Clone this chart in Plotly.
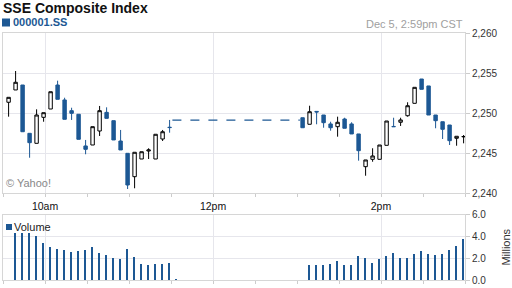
import pandas as pd
import plotly.graph_objects as go

# ---------------- data ----------------
am_times = pd.date_range("2012-12-05 09:34", periods=24, freq="5min")
pm_times = pd.date_range("2012-12-05 13:04", periods=24, freq="5min")

am_open  = [2251.34, 2252.88, 2253.50, 2247.46, 2246.21, 2249.46, 2250.50, 2253.50,
            2251.63, 2250.29, 2249.84, 2245.88, 2246.00, 2247.75, 2250.08, 2249.04,
            2246.50, 2244.96, 2242.04, 2244.25, 2245.25, 2244.25, 2246.75, 2248.22]
am_high  = [2251.96, 2255.25, 2253.50, 2247.46, 2250.46, 2250.04, 2252.66, 2254.04,
            2251.91, 2250.66, 2249.84, 2246.63, 2248.29, 2250.88, 2250.71, 2249.04,
            2247.88, 2244.96, 2245.09, 2245.16, 2245.59, 2247.34, 2247.88, 2249.13]
am_low   = [2249.54, 2252.88, 2247.66, 2244.41, 2246.21, 2248.91, 2250.50, 2251.71,
            2249.21, 2249.13, 2246.71, 2244.84, 2246.00, 2247.13, 2249.33, 2246.63,
            2245.38, 2240.50, 2240.59, 2244.25, 2244.25, 2244.25, 2246.50, 2247.54]
am_close = [2251.96, 2253.84, 2247.66, 2246.29, 2249.75, 2250.04, 2252.66, 2251.71,
            2249.21, 2249.96, 2246.71, 2245.46, 2248.29, 2250.29, 2249.33, 2246.63,
            2245.38, 2241.00, 2245.09, 2245.16, 2245.38, 2247.34, 2247.66, 2248.18]

pm_open  = [2249.41, 2248.59, 2250.20, 2249.75, 2248.63, 2248.29, 2249.25, 2248.63,
            2247.38, 2243.29, 2244.21, 2244.21, 2245.96, 2248.32, 2248.84, 2249.66,
            2251.21, 2254.25, 2253.38, 2249.75, 2248.91, 2248.50, 2246.84, 2247.02]
pm_high  = [2249.41, 2250.91, 2250.20, 2249.75, 2248.91, 2249.54, 2249.41, 2248.84,
            2247.38, 2244.13, 2245.59, 2246.00, 2249.00, 2249.41, 2249.41, 2251.34,
            2253.21, 2254.25, 2253.38, 2249.75, 2248.91, 2248.50, 2247.09, 2247.25]
pm_low   = [2248.16, 2248.59, 2248.59, 2248.16, 2247.79, 2247.04, 2248.09, 2247.38,
            2244.04, 2242.16, 2243.91, 2244.21, 2245.96, 2248.29, 2248.38, 2249.54,
            2251.21, 2252.96, 2249.75, 2248.09, 2246.75, 2246.00, 2245.91, 2246.21]
pm_close = [2248.16, 2250.16, 2250.13, 2248.79, 2248.16, 2248.84, 2248.09, 2247.38,
            2245.29, 2244.13, 2244.63, 2246.00, 2249.00, 2248.29, 2249.13, 2250.91,
            2253.21, 2252.96, 2249.75, 2249.04, 2247.96, 2246.54, 2247.09, 2247.06]

lunch_times = ["2012-12-05 11:31", "2012-12-05 13:02"]
lunch_level = [2249.1, 2249.1]

vol_am_times = pd.date_range("2012-12-05 09:39", periods=24, freq="5min")
vol_am = [4.34, 4.34, 4.34, 4.09, 3.42, 3.08, 2.86, 2.77, 2.62, 2.71, 2.77, 3.08,
          2.49, 2.31, 2.03, 1.94, 2.86, 2.15, 1.48, 1.42, 1.48, 1.48, 1.57, 0.18]
vol_pm_times = pd.date_range("2012-12-05 13:09", periods=23, freq="5min")
vol_pm = [1.41, 1.41, 1.41, 1.51, 1.75, 1.41, 1.41, 2.22, 2.03, 1.57, 1.94, 2.22,
          2.52, 2.06, 2.06, 2.40, 2.68, 2.40, 2.31, 2.40, 2.77, 3.14, 3.81]

x_tickvals = ["2012-12-05 10:00", "2012-12-05 12:00", "2012-12-05 14:00"]
x_ticktext = ["10am", "12pm", "2pm"]
price_ticks = [2240, 2245, 2250, 2255, 2260]
vol_ticks = [0, 2, 4, 6]

# ---------------- styling ----------------
BLUE = "#1d5894"
GRID = "#e6e6ec"
LINE = "#d6d6d6"
FONT = "Liberation Sans, Arial, sans-serif"
W, H = 512, 288
ML, MR, MT, MB = 3, 47, 33, 8
PW, PH = W - ML - MR, H - MT - MB


def px(x):
    return (x - ML) / PW


def py(y):
    return (H - MB - y) / PH


times = list(am_times) + list(pm_times)
fig = go.Figure()
fig.add_trace(go.Candlestick(
    x=times,
    open=am_open + pm_open, high=am_high + pm_high,
    low=am_low + pm_low, close=am_close + pm_close,
    increasing=dict(line=dict(color="#000000", width=1), fillcolor="#ffffff"),
    decreasing=dict(line=dict(color=BLUE, width=1), fillcolor=BLUE),
    whiskerwidth=0, showlegend=False, xaxis="x", yaxis="y",
))
fig.add_trace(go.Scatter(
    x=lunch_times, y=lunch_level, mode="lines",
    line=dict(color=BLUE, width=1.3, dash="dash"),
    showlegend=False, xaxis="x", yaxis="y",
))
fig.add_trace(go.Bar(
    x=list(vol_am_times) + list(vol_pm_times), y=vol_am + vol_pm,
    marker=dict(color=BLUE, line=dict(width=0)), width=70000,
    showlegend=False, xaxis="x2", yaxis="y2",
))

xcommon = dict(
    range=["2012-12-05 09:30", "2012-12-05 15:00"],
    tickmode="array", tickvals=x_tickvals,
    showgrid=True, gridcolor=GRID, gridwidth=1,
    ticks="outside", ticklen=3, tickcolor="#cccccc",
    minor=dict(tickmode="linear", tick0="2012-12-05 09:30", dtick=30 * 60 * 1000,
               ticks="outside", ticklen=3, tickcolor="#cccccc", showgrid=False),
    showline=True, mirror=True, linecolor=LINE, linewidth=1,
    zeroline=False, automargin=False, fixedrange=True,
)

fig.update_layout(
    width=W, height=H, template="none",
    margin=dict(l=ML, r=MR, t=MT, b=MB, pad=0),
    paper_bgcolor="#ffffff", plot_bgcolor="#ffffff",
    font=dict(family=FONT, size=10.5, color="#222222"),
    showlegend=False, bargap=0,
    xaxis=dict(**xcommon, anchor="y", ticktext=x_ticktext, showticklabels=True,
               tickfont=dict(size=10.5, color="#111111"),
               rangeslider=dict(visible=False)),
    xaxis2=dict(**xcommon, anchor="y2", matches="x", showticklabels=False),
    yaxis=dict(domain=[py(193), 1], range=[2240, 2260], side="right",
               tickmode="array", tickvals=price_ticks, tickformat=",",
               showgrid=True, gridcolor=GRID, ticks="outside", ticklen=4,
               tickcolor="#cccccc", showline=True, mirror=True, linecolor=LINE,
               zeroline=False, automargin=False, fixedrange=True,
               tickfont=dict(size=10, color="#333333")),
    yaxis2=dict(domain=[0, py(214.5)], range=[0, 6], side="right",
                tickmode="array", tickvals=vol_ticks, tickformat=".1f",
                showgrid=True, gridcolor=GRID, ticks="outside", ticklen=4,
                tickcolor="#cccccc", showline=True, mirror=True, linecolor=LINE,
                zeroline=False, automargin=False, fixedrange=True,
                tickfont=dict(size=10, color="#333333"),
                title=dict(text="Millions", font=dict(size=11, color="#333333"),
                           standoff=17)),
)

shapes = [
    dict(type="rect", xref="paper", yref="paper",
         x0=px(2), x1=px(10), y0=py(26.5), y1=py(18.5),
         fillcolor=BLUE, line=dict(width=0)),
    dict(type="rect", xref="paper", yref="paper",
         x0=px(6), x1=px(12), y0=py(230), y1=py(224),
         fillcolor=BLUE, line=dict(width=0)),
]
fig.update_layout(shapes=shapes)

ann = [
    dict(text="<b>SSE Composite Index</b>", x=px(2), y=py(8), xanchor="left",
         yanchor="middle", font=dict(size=14, color="#111111")),
    dict(text="<b>000001.SS</b>", x=px(12), y=py(22.5), xanchor="left",
         yanchor="middle", font=dict(size=11, color=BLUE)),
    dict(text="Dec 5, 2:59pm CST", x=px(464), y=py(24), xanchor="right",
         yanchor="middle", font=dict(size=11, color="#a0a0a0")),
    dict(text="© Yahoo!", x=px(5), y=py(183), xanchor="left",
         yanchor="middle", font=dict(size=11, color="#888888")),
    dict(text="Volume", x=px(12.5), y=py(227.5), xanchor="left",
         yanchor="middle", font=dict(size=11, color="#222222")),
]
for a in ann:
    a.update(xref="paper", yref="paper", showarrow=False, borderpad=0)
fig.update_layout(annotations=ann)

fig.write_html("out.html")
